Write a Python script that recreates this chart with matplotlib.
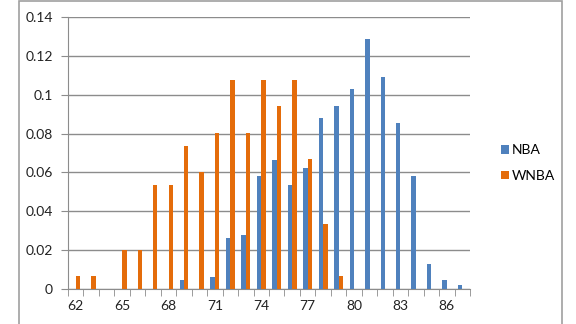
import numpy as np
import matplotlib
matplotlib.use("Agg")
import matplotlib.pyplot as plt
from matplotlib.patches import Rectangle
from matplotlib.ticker import FuncFormatter

plt.rcParams['font.family'] = ['Lato', 'DejaVu Sans']

heights = list(range(62, 88))   # inches
nba = [0, 0, 0, 0, 0, 0, 0, 0.0045, 0, 0.0064, 0.0261, 0.028, 0.0582, 0.0663,
       0.0536, 0.0622, 0.0878, 0.0942, 0.1029, 0.1286, 0.1092, 0.0854, 0.058,
       0.0127, 0.0045, 0.0022]
wnba = [0.0067, 0.0067, 0, 0.0201, 0.0201, 0.0537, 0.0537, 0.0738, 0.0604,
        0.0805, 0.1074, 0.0805, 0.1074, 0.094, 0.1074, 0.0671, 0.0336, 0.0067,
        0, 0, 0, 0, 0, 0, 0, 0]
tick_labels = [str(h) if (h - 62) % 3 == 0 else "" for h in heights]

fig = plt.figure(figsize=(5.76, 3.24), dpi=100)
ax = fig.add_axes([68/576, 35/324, 402/576, 272/324])

x = np.arange(len(heights))
w = 0.286
ax.bar(x - w/2, nba, w, color='#4F81BD', label='NBA', zorder=3)
ax.bar(x + w/2, wnba, w, color='#E46C0A', label='WNBA', zorder=3)

ax.set_xlim(-0.5, len(heights) - 0.5)
ax.set_ylim(0, 0.14)
ax.set_yticks(np.arange(0, 0.141, 0.02))
ax.yaxis.set_major_formatter(FuncFormatter(lambda v, p: "0" if v == 0 else ("%.2f" % v).rstrip('0')))
ax.grid(axis='y', color='#8c8c8c', lw=1, zorder=0)

ax.set_xticks(x)
ax.set_xticklabels(tick_labels)
ax.tick_params(axis='x', length=0, pad=8, labelsize=10, colors='#222222')
ax.set_xticks(np.arange(-0.5, len(heights)), minor=True)
ax.tick_params(axis='x', which='minor', length=5, color='#8c8c8c', direction='out')
ax.tick_params(axis='y', length=5, color='#8c8c8c', pad=6, labelsize=10, colors='#222222')

for s in ['top', 'right']:
    ax.spines[s].set_visible(False)
ax.spines['left'].set_color('#8c8c8c')
ax.spines['bottom'].set_color('#8c8c8c')

ax.legend(loc='center left', bbox_to_anchor=(488/576, 161/324), bbox_transform=fig.transFigure,
          frameon=False, fontsize=10, handlelength=0.6, handleheight=0.6,
          handletextpad=0.2, labelspacing=1.0)

fig.patches.append(Rectangle((19/576, -0.1), 543/576, 1.097, transform=fig.transFigure,
                             fill=False, edgecolor='#a0a0a0', lw=1.2))

fig.savefig("out.png", dpi=100)
